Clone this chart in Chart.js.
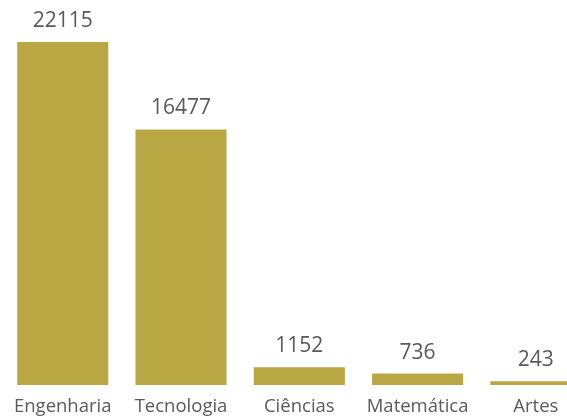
<!DOCTYPE html>
<html>
<head>
<meta charset="utf-8">
<script src="https://cdn.jsdelivr.net/npm/chart.js@4"></script>
<style>
  html, body { margin: 0; padding: 0; background: #ffffff; overflow: hidden; }
  #wrap { position: absolute; left: 0; top: 0; width: 600px; height: 417px; }
</style>
</head>
<body>
<div id="wrap"><canvas id="barChart"></canvas></div>
<script>
// Data
const categories = ['Engenharia', 'Tecnologia', 'Ciências', 'Matemática', 'Artes'];
const values = [22115, 16477, 1152, 736, 243];

const barColor = '#b9a744';
const textColor = '#5a5a5a';
const fontFamily = "'Open Sans', sans-serif";

// Draw the value above each bar
const valueLabels = {
    id: 'valueLabels',
    afterDatasetsDraw(chart) {
        const ctx = chart.ctx;
        const meta = chart.getDatasetMeta(0);
        ctx.save();
        ctx.fillStyle = textColor;
        ctx.font = '21px ' + fontFamily;
        ctx.textAlign = 'center';
        ctx.textBaseline = 'alphabetic';
        meta.data.forEach((bar, i) => {
            ctx.fillText(String(values[i]), bar.x, bar.y - 15);
        });
        ctx.restore();
    }
};

new Chart(document.getElementById('barChart'), {
    type: 'bar',
    data: {
        labels: categories,
        datasets: [{
            data: values,
            backgroundColor: barColor,
            borderWidth: 0,
            categoryPercentage: 1,
            barPercentage: 0.77
        }]
    },
    options: {
        responsive: true,
        maintainAspectRatio: false,
        animation: false,
        layout: { padding: { left: 3.6, right: 5, top: 42, bottom: 0 } },
        plugins: {
            legend: { display: false },
            tooltip: { enabled: false }
        },
        scales: {
            x: {
                grid: { display: false, drawTicks: false },
                border: { display: false },
                ticks: {
                    color: textColor,
                    font: { family: fontFamily, size: 18.5 },
                    padding: 11,
                    maxRotation: 0,
                    autoSkip: false
                },
                afterFit(scale) { scale.height = 32; }
            },
            y: {
                display: false,
                min: 0,
                max: Math.max(...values)
            }
        }
    },
    plugins: [valueLabels]
});
</script>
</body>
</html>
